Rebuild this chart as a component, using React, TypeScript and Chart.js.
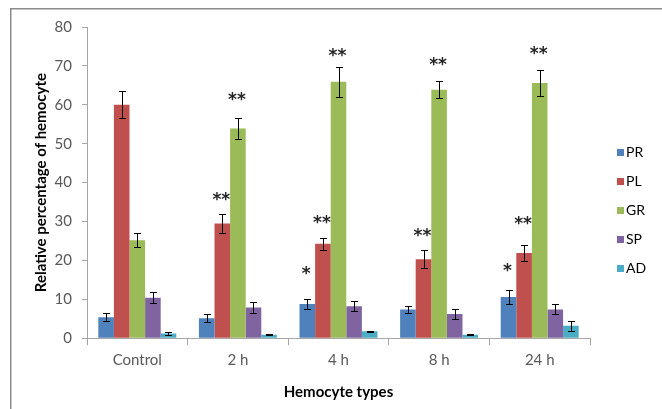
import React, { useEffect, useRef } from "react";
import { Chart, registerables } from "chart.js";

Chart.register(...registerables);

const categories = ["Control", "2 h", "4 h", "8 h", "24 h"];
const seriesNames = ["PR", "PL", "GR", "SP", "AD"];
const seriesColors = ["#4F81BD", "#C0504D", "#9BBB59", "#8064A2", "#4BACC6"];

const prValues = [5.4, 5.1, 8.8, 7.4, 10.6];
const plValues = [60.0, 29.5, 24.3, 20.3, 21.9];
const grValues = [25.2, 53.9, 65.9, 63.9, 65.6];
const spValues = [10.4, 7.9, 8.2, 6.2, 7.4];
const adValues = [1.2, 0.9, 1.8, 0.9, 3.2];

const prErrors = [1.0, 1.0, 1.4, 0.9, 1.7];
const plErrors = [3.5, 2.5, 1.5, 2.3, 2.0];
const grErrors = [1.8, 2.8, 3.8, 2.1, 3.3];
const spErrors = [1.4, 1.4, 1.3, 1.2, 1.3];
const adErrors = [0.3, 0.2, 0.1, 0.1, 1.3];

// significance marks
const markSeries = [1, 2, 0, 1, 2, 1, 2, 0, 1, 2];
const markCategories = [1, 1, 2, 2, 2, 3, 3, 4, 4, 4];
const markLabels = ["**", "**", "*", "**", "**", "**", "**", "*", "**", "**"];
const markY = [36.3, 62.1, 17.5, 30.5, 73.4, 27.2, 71.1, 18.1, 30.2, 73.9];

const yMin = 0;
const yMax = 80;
const yStep = 10;
const yTitle = "Relative percentage of hemocyte";
const xTitle = "Hemocyte types";

const seriesValues = [prValues, plValues, grValues, spValues, adValues];
const seriesErrors = [prErrors, plErrors, grErrors, spErrors, adErrors];

const AXIS_COLOR = "#a6a6a6";
const TEXT_COLOR = "#595959";
const FONT = "Lato, 'Liberation Sans', sans-serif";

const framePlugin = {
  id: "frame",
  beforeDraw(chart: any) {
    const ctx = chart.ctx;
    ctx.save();
    ctx.fillStyle = "#ffffff";
    ctx.fillRect(0, 0, chart.width, chart.height);
    ctx.strokeStyle = "#8c8c8c";
    ctx.lineWidth = 1.5;
    ctx.beginPath();
    ctx.moveTo(10.75, chart.height);
    ctx.lineTo(10.75, 8.75);
    ctx.lineTo(chart.width, 8.75);
    ctx.stroke();
    ctx.restore();
  },
};

const errorBarPlugin = {
  id: "errorBars",
  afterDatasetsDraw(chart: any) {
    const ctx = chart.ctx;
    const y = chart.scales.y;
    ctx.save();
    ctx.strokeStyle = "#000000";
    ctx.lineWidth = 1;
    chart.data.datasets.forEach((ds: any, i: number) => {
      const meta = chart.getDatasetMeta(i);
      meta.data.forEach((el: any, j: number) => {
        const v = seriesValues[i][j];
        const e = seriesErrors[i][j];
        const x = Math.round(el.x) + 0.5;
        const yt = Math.round(y.getPixelForValue(v + e)) + 0.5;
        const yb = Math.round(y.getPixelForValue(v - e)) + 0.5;
        const cap = 3.5;
        ctx.beginPath();
        ctx.moveTo(x, yt);
        ctx.lineTo(x, yb);
        ctx.moveTo(x - cap, yt);
        ctx.lineTo(x + cap, yt);
        ctx.moveTo(x - cap, yb);
        ctx.lineTo(x + cap, yb);
        ctx.stroke();
      });
    });
    ctx.restore();
  },
};

const marksPlugin = {
  id: "marks",
  afterDatasetsDraw(chart: any) {
    const ctx = chart.ctx;
    const y = chart.scales.y;
    ctx.save();
    ctx.fillStyle = "#262626";
    ctx.font = "bold 17px 'DejaVu Sans', sans-serif";
    ctx.textAlign = "center";
    ctx.textBaseline = "middle";
    markLabels.forEach((label, k) => {
      const el = chart.getDatasetMeta(markSeries[k]).data[markCategories[k]];
      const py = y.getPixelForValue(markY[k]);
      ctx.fillText(label, el.x - 1, py + 4);
    });
    ctx.restore();
  },
};

const legendPlugin = {
  id: "customLegend",
  afterDraw(chart: any) {
    const ctx = chart.ctx;
    const area = chart.chartArea;
    ctx.save();
    ctx.font = `14px ${FONT}`;
    ctx.textBaseline = "middle";
    ctx.textAlign = "left";
    const x0 = area.right + 27;
    const y0 = 152.5;
    const gap = 29;
    seriesNames.forEach((name, i) => {
      const cy = y0 + i * gap;
      ctx.fillStyle = seriesColors[i];
      ctx.fillRect(x0, cy - 3.5, 7, 7);
      ctx.fillStyle = "#000000";
      ctx.fillText(name, x0 + 9, cy);
    });
    ctx.restore();
  },
};

export default function App() {
  const ref = useRef<HTMLCanvasElement | null>(null);
  useEffect(() => {
    if (!ref.current) return;
    const chart = new Chart(ref.current, {
      type: "bar",
      data: {
        labels: categories,
        datasets: seriesNames.map((name, i) => ({
          label: name,
          data: seriesValues[i],
          backgroundColor: seriesColors[i],
          borderWidth: 0,
          barPercentage: 1,
          categoryPercentage: 0.775,
        })),
      },
      options: {
        responsive: false,
        animation: false,
        layout: { padding: { left: 32, right: 72, top: 27, bottom: 8 } },
        plugins: {
          legend: { display: false },
          tooltip: { enabled: false },
        },
        scales: {
          x: {
            afterFit: (s: any) => {
              s.height = 62.8;
            },
            grid: {
              display: true,
              drawOnChartArea: false,
              drawTicks: true,
              tickLength: 7,
              color: AXIS_COLOR,
              offset: true,
            },
            border: { display: true, color: AXIS_COLOR, width: 1 },
            ticks: {
              color: TEXT_COLOR,
              font: { family: FONT, size: 15 },
              padding: 6,
              maxRotation: 0,
            },
            title: {
              display: true,
              text: xTitle,
              color: "#000000",
              font: { family: FONT, size: 15, weight: "bold" },
              padding: { top: 0, bottom: 0 },
            },
          },
          y: {
            min: yMin,
            max: yMax,
            afterFit: (s: any) => {
              s.width = 55;
            },
            grid: {
              display: true,
              drawOnChartArea: false,
              drawTicks: true,
              tickLength: 5,
              color: AXIS_COLOR,
            },
            border: { display: true, color: AXIS_COLOR, width: 1 },
            ticks: {
              stepSize: yStep,
              color: TEXT_COLOR,
              font: { family: FONT, size: 15 },
              padding: 10,
            },
            title: {
              display: true,
              text: yTitle,
              color: "#000000",
              font: { family: FONT, size: 15, weight: "bold" },
              padding: { top: 0, bottom: 0 },
            },
          },
        },
      },
      plugins: [framePlugin, errorBarPlugin, marksPlugin, legendPlugin],
    });
    return () => chart.destroy();
  }, []);
  return (
    <div style={{ position: "fixed", left: 0, top: 0, width: 662, height: 409 }}>
      <canvas ref={ref} width={662} height={409} style={{ display: "block" }} />
    </div>
  );
}
